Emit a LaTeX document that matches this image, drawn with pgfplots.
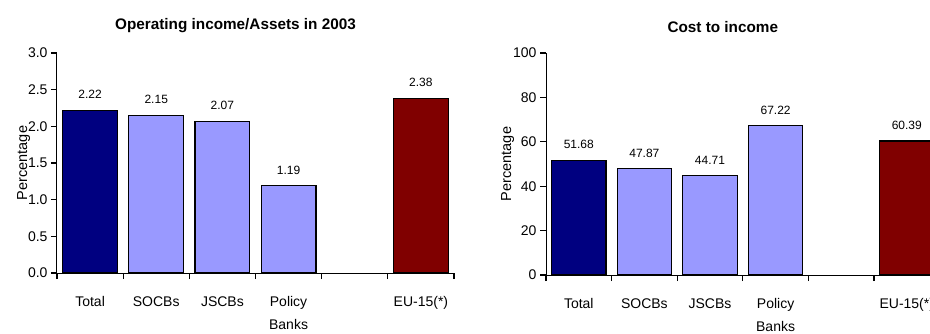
\documentclass[border=0pt]{standalone}
\usepackage{fontspec}
\setmainfont{Liberation Sans}
\usepackage{pgfplots}
\pgfplotsset{compat=1.18}
\definecolor{navyb}{HTML}{000080}
\definecolor{perib}{HTML}{9999FF}
\definecolor{maroonb}{HTML}{800000}
\pgfplotsset{
 mystyle/.style={
  scale only axis, anchor=south west,
  axis x line*=bottom, axis y line*=left,
  axis line style={line width=1pt},
  xmin=-0.5, xmax=5.5,
  xtick={-0.5,0.5,1.5,2.5,3.5,4.5,5.5},
  xticklabels={},
  extra x ticks={0,1,2,3,4,5},
  extra x tick labels={Total,SOCBs,JSCBs,{Policy\\Banks},,EU-15(*)},
  extra x tick style={major tick length=0pt, xticklabel style={yshift=-20pt}},
  tick align=outside, major tick length=6pt,
  every tick/.style={draw=black, line width=1.1pt},
  major tick style={draw=black, line width=1.1pt},
  xticklabel style={font=\fontsize{14}{23}\selectfont, align=center},
  yticklabel style={font=\fontsize{14}{16}\selectfont},
  ylabel={Percentage},
  ylabel style={font=\fontsize{14.5}{16}\selectfont},
  title style={font=\bfseries\fontsize{15.3}{17}\selectfont, xshift=-20pt, yshift=11pt},
  ybar, bar shift=0pt, bar width=0.83,
  every axis plot/.append style={draw=black, line width=1.2pt},
  nodes near coords,
  nodes near coords style={font=\fontsize{12}{14}\selectfont, yshift=7.5pt, /pgf/number format/.cd, fixed, fixed zerofill, precision=2},
  /pgf/number format/assume math mode=true,
 }}
\begin{document}
\begin{tikzpicture}
\useasboundingbox (0,0) rectangle (930pt,333pt);
\begin{axis}[mystyle, at={(57pt,60pt)}, width=397pt, height=220pt,
  ymin=0, ymax=3, ytick={0,0.5,...,3},
  yticklabel style={/pgf/number format/.cd, fixed, fixed zerofill, precision=1},
  ylabel style={yshift=-9pt},
  title={Operating income/Assets in 2003}]
\addplot[fill=navyb] coordinates {(0,2.22)};
\addplot[fill=perib] coordinates {(1,2.15) (2,2.07) (3,1.19)};
\addplot[fill=maroonb] coordinates {(5,2.38)};
\end{axis}
\begin{axis}[mystyle, at={(546pt,58pt)}, width=393.6pt, height=222pt,
  ymin=0, ymax=100, ytick={0,20,...,100},
  ylabel style={yshift=-8pt},
  title={Cost to income}]
\addplot[fill=navyb] coordinates {(0,51.68)};
\addplot[fill=perib] coordinates {(1,47.87) (2,44.71) (3,67.22)};
\addplot[fill=maroonb] coordinates {(5,60.39)};
\end{axis}
\end{tikzpicture}
\end{document}
